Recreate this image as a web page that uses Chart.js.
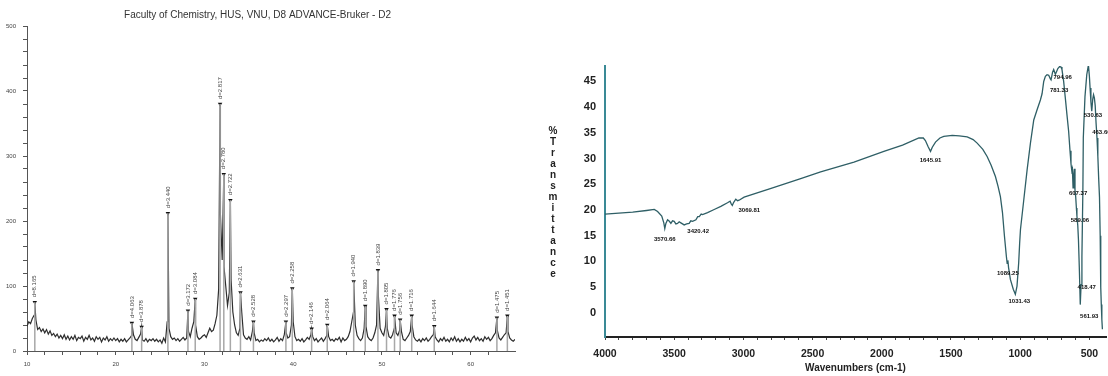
<!DOCTYPE html>
<html>
<head>
<meta charset="utf-8">
<script src="https://cdn.jsdelivr.net/npm/chart.js@4.4.1/dist/chart.umd.min.js"></script>
<style>
    html, body { margin: 0; padding: 0; background: #fff; }
    #wrap { position: relative; width: 1108px; height: 376px; overflow: hidden; }
    #xrdBox { position: absolute; left: 0; top: 0; width: 520px; height: 376px; }
    #ftirBox { position: absolute; left: 520px; top: 0; width: 588px; height: 376px; }
</style>
</head>
<body>
<div id="wrap">
    <div id="xrdBox"><canvas id="xrdChart" width="520" height="376"></canvas></div>
    <div id="ftirBox"><canvas id="ftirChart" width="588" height="376"></canvas></div>
</div>
<script>
// ---- XRD pattern (left) ----
const xrdTitle = "Faculty of Chemistry, HUS, VNU, D8 ADVANCE-Bruker - D2";
const scanStart = 10.0;   // 2-theta of first count
const scanStep = 0.2;     // degrees per count
// one row per degree: x.0, x.2, x.4, x.6, x.8
const xrdCounts = [
    38, 45, 42, 50, 55,   // 10
    48, 33, 36, 30, 34,   // 11
    28, 33, 26, 31, 24,   // 12
    27, 22, 26, 20, 24,   // 13
    19, 25, 18, 23, 17,   // 14
    22, 18, 24, 16, 21,   // 15
    19, 23, 15, 21, 18,   // 16
    24, 17, 20, 15, 22,   // 17
    18, 21, 14, 20, 17,   // 18
    22, 15, 19, 16, 20,   // 19
    16, 19, 14, 18, 15,   // 20
    19, 14, 17, 20, 24,   // 21
    25, 18, 16, 21, 26,   // 22
    17, 15, 19, 14, 18,   // 23
    16, 19, 15, 18, 14,   // 24
    17, 12, 20, 14, 45,   // 25
    35, 22, 18, 20, 16,   // 26
    19, 15, 18, 21, 17,   // 27
    20, 30, 22, 35, 45,   // 28
    40, 22, 18, 20, 23,   // 29
    25, 21, 28, 35, 30,   // 30
    32, 42, 55, 95, 210,  // 31
    140, 130, 100, 70, 90,// 32
    110, 60, 40, 28, 24,  // 33
    35, 60, 25, 20, 18,   // 34
    22, 17, 30, 28, 16,   // 35
    18, 14, 17, 15, 19,   // 36
    16, 20, 15, 18, 14,   // 37
    17, 21, 15, 19, 16,   // 38
    25, 28, 20, 22, 40,   // 39
    45, 22, 16, 18, 15,   // 40
    19, 14, 17, 21, 18,   // 41
    25, 22, 16, 19, 14,   // 42
    17, 20, 15, 19, 24,   // 43
    22, 16, 18, 15, 19,   // 44
    17, 21, 14, 20, 16,   // 45
    18, 22, 30, 45, 60,   // 46
    40, 24, 19, 16, 20,   // 47
    35, 38, 22, 18, 16,   // 48
    20, 28, 40, 85, 35,   // 49
    28, 24, 38, 35, 22,   // 50
    20, 25, 35, 28, 24,   // 51
    32, 30, 18, 16, 20,   // 52
    24, 30, 40, 22, 17,   // 53
    15, 18, 14, 19, 16,   // 54
    20, 15, 18, 22, 25,   // 55
    22, 17, 14, 19, 16,   // 56
    21, 15, 18, 14, 20,   // 57
    16, 22, 15, 19, 14,   // 58
    18, 15, 21, 16, 19,   // 59
    14, 20, 23, 17, 21,   // 60
    16, 19, 15, 22, 18,   // 61
    21, 16, 19, 24, 28,   // 62
    32, 20, 17, 21, 25,   // 63
    28, 30, 20, 17, 15,   // 64
    18                    // 65
];
const xrdPeakAngle = [10.88, 21.82, 22.92, 25.88, 28.14, 28.96, 31.76, 32.18, 32.92, 34.06, 35.52, 39.18, 39.90, 42.08, 43.84, 46.82, 48.12, 49.55, 50.52, 51.42, 52.06, 53.36, 55.90, 62.96, 64.14];
const xrdPeakCount = [75, 43, 37, 212, 62, 80, 380, 272, 232, 90, 45, 45, 96, 34, 40, 107, 69, 124, 64, 54, 48, 54, 38, 51, 54];
const xrdPeakLabel = ['d=8.165', 'd=4.063', 'd=3.878', 'd=3.440', 'd=3.172', 'd=3.084', 'd=2.817', 'd=2.780', 'd=2.722', 'd=2.631', 'd=2.528', 'd=2.297', 'd=2.258', 'd=2.146', 'd=2.064', 'd=1.940', 'd=1.890', 'd=1.839', 'd=1.805', 'd=1.776', 'd=1.756', 'd=1.716', 'd=1.644', 'd=1.475', 'd=1.451'];

// ---- FTIR spectrum (right) ----
const ftirWavenumber = [4000, 3900, 3800, 3700, 3644, 3620, 3590, 3575, 3568, 3560, 3548, 3535, 3524, 3512, 3500, 3488, 3476, 3464, 3452, 3440, 3428, 3410, 3392, 3380, 3367, 3343, 3330, 3319, 3305, 3295, 3259, 3211, 3163, 3115, 3096, 3088, 3080, 3070, 3055, 3042, 3031, 2995, 2800, 2586, 2442, 2201, 1985, 1850, 1732, 1700, 1685, 1665, 1648, 1635, 1612, 1580, 1552, 1491, 1440, 1383, 1340, 1311, 1270, 1239, 1210, 1179, 1160, 1143, 1128, 1114, 1100, 1094, 1089, 1084, 1071, 1050, 1035, 1023, 1011, 1004, 998, 974, 950, 926, 902, 878, 854, 842, 830, 818, 806, 794, 782, 777, 766, 758, 746, 739, 728, 715, 705, 698, 686, 674, 662, 650, 640, 633, 627, 623, 618, 613, 609, 604, 599, 594, 590, 584, 579, 572, 566, 560, 554, 547, 544, 532, 519, 507, 500, 495, 489, 483, 476, 470, 464, 458, 452, 445, 439, 433, 427, 422, 418, 414, 410, 406];
const ftirTransmittance = [19.2, 19.4, 19.6, 19.9, 20.1, 19.7, 18.8, 17.5, 16.4, 17.4, 18.1, 17.8, 17.4, 17.9, 17.8, 17.3, 17.4, 17.7, 17.5, 17.3, 17.1, 17.3, 17.4, 17.9, 17.8, 18.1, 18.7, 18.7, 19.2, 19.1, 19.5, 20.1, 20.7, 21.4, 21.7, 21.2, 20.9, 21.5, 22.1, 21.8, 21.9, 22.5, 24.2, 26.1, 27.4, 29.3, 31.4, 32.6, 34.0, 34.0, 33.5, 32.3, 31.4, 32.2, 33.2, 34.0, 34.3, 34.5, 34.4, 34.2, 33.7, 33.0, 31.8, 30.4, 28.7, 26.5, 24.6, 22.6, 19.5, 15.0, 11.0, 9.6, 10.2, 8.8, 6.5, 4.6, 3.6, 5.2, 9.7, 13.5, 16.2, 22.0, 27.8, 33.0, 37.5, 39.5, 41.4, 42.6, 45.0, 46.0, 46.3, 46.2, 45.5, 45.3, 46.8, 47.3, 46.4, 46.8, 47.5, 47.9, 47.8, 47.3, 45.0, 41.8, 38.5, 35.3, 31.5, 29.0, 27.6, 28.0, 24.3, 26.8, 28.0, 23.8, 22.6, 20.4, 18.8, 17.0, 14.2, 8.0, 1.6, 5.5, 11.0, 24.0, 34.0, 42.0, 46.3, 48.2, 46.0, 43.7, 41.0, 39.2, 41.5, 42.4, 41.8, 40.3, 37.0, 34.0, 30.5, 26.2, 22.5, 15.0, 5.0, 1.6, -1.3, -3.2];
const ftirPeakLabel = ['3570.66', '3420.42', '3069.81', '1645.91', '1089.25', '1031.43', '794.96', '781.33', '607.37', '589.06', '561.93', '530.63', '463.66', '418.47'];
const ftirPeakWn = [3568, 3428, 3080, 1648, 1089, 1035, 758, 777, 618, 590, 566, 532, 464, 418];
const ftirPeakT = [16.4, 17.1, 20.9, 31.4, 10.2, 3.6, 47.3, 45.3, 24.3, 18.8, 1.6, 42.0, 41.8, 5.0];
const yTitleLetters = ['%', 'T', 'r', 'a', 'n', 's', 'm', 'i', 't', 't', 'a', 'n', 'c', 'e'];

// pixel offsets of the FTIR peak labels from their peaks
const ftirLabelOffset = [[0, 11], [14, 6], [17, 5], [0, 9], [0, 13], [4, 7], [9, 8], [8, 10], [5, 5], [3, 4], [9, 12], [8, 18], [7, 34], [-14, 0]];

// merge scan counts with peak tops, sorted by angle
const xrdProfile = xrdCounts.map((c, i) => ({ x: +(scanStart + i * scanStep).toFixed(2), y: c }))
    .concat(xrdPeakAngle.map((a, i) => ({ x: a, y: xrdPeakCount[i] })))
    .sort((a, b) => a.x - b.x);

// stick lines from the axis to each peak, broken by null
const xrdSticks = [];
xrdPeakAngle.forEach((a, i) => {
    xrdSticks.push({ x: a, y: 0 }, { x: a, y: xrdPeakCount[i] }, { x: a, y: null });
});

const smallFont = { family: "'Liberation Sans', Arial, sans-serif", size: 6 };

const xrdLabels = {
    id: 'xrdLabels',
    afterDatasetsDraw(chart) {
        const { ctx, scales: { x, y } } = chart;
        ctx.save();
        ctx.fillStyle = '#444';
        ctx.font = "6px 'Liberation Sans', Arial, sans-serif";
        ctx.textAlign = 'left';
        ctx.textBaseline = 'middle';
        xrdPeakAngle.forEach((a, i) => {
            ctx.save();
            ctx.translate(x.getPixelForValue(a), y.getPixelForValue(xrdPeakCount[i]) - 5);
            ctx.rotate(-Math.PI / 2);
            ctx.fillText(xrdPeakLabel[i], 0, 0);
            ctx.restore();
        });
        ctx.restore();
    }
};

new Chart(document.getElementById('xrdChart'), {
    type: 'line',
    data: {
        datasets: [
            {
                data: xrdSticks,
                borderColor: '#a8a8a8',
                borderWidth: 1.5,
                pointRadius: 0,
                spanGaps: false
            },
            {
                data: xrdProfile,
                borderColor: '#2e2e2e',
                borderWidth: 1.2,
                pointRadius: 0,
                tension: 0
            },
            {
                type: 'scatter',
                data: xrdPeakAngle.map((a, i) => ({ x: a, y: xrdPeakCount[i] })),
                pointStyle: 'triangle',
                rotation: 180,
                pointRadius: 2.6,
                backgroundColor: '#111',
                borderColor: '#111',
                borderWidth: 0
            }
        ]
    },
    options: {
        responsive: false,
        animation: false,
        parsing: false,
        layout: { padding: { left: 0, right: 5, top: 0, bottom: 0 } },
        plugins: {
            legend: { display: false },
            tooltip: { enabled: false },
            title: {
                display: true,
                text: xrdTitle,
                color: '#333',
                font: { family: "'Liberation Sans Narrow', 'Liberation Sans', Arial, sans-serif", size: 10, weight: 'normal' },
                padding: { top: 9, bottom: 5 }
            }
        },
        scales: {
            x: {
                type: 'linear',
                min: 10,
                max: 65,
                afterFit: s => { s.height = 25; },
                afterBuildTicks: s => { s.ticks = s.ticks.filter(t => t.value % 2 === 0); },
                ticks: {
                    stepSize: 2,
                    autoSkip: false,
                    maxRotation: 0,
                    padding: 6,
                    color: '#444',
                    font: smallFont,
                    callback: v => (v % 10 === 0 ? v : '')
                },
                grid: { drawOnChartArea: false, drawTicks: true, tickLength: 4, color: '#555' },
                border: { color: '#555', width: 1 }
            },
            y: {
                min: 0,
                max: 500,
                afterFit: s => { s.width = 27; },
                ticks: {
                    stepSize: 20,
                    autoSkip: false,
                    padding: 7,
                    color: '#444',
                    font: smallFont,
                    callback: v => (v % 100 === 0 ? v : '')
                },
                grid: { drawOnChartArea: false, drawTicks: true, tickLength: 4, color: '#555' },
                border: { color: '#555', width: 1 }
            }
        }
    },
    plugins: [xrdLabels]
});

const ftirText = {
    id: 'ftirText',
    afterDatasetsDraw(chart) {
        const { ctx, scales: { x, y } } = chart;
        ctx.save();
        ctx.fillStyle = '#111';
        ctx.textAlign = 'center';
        ctx.textBaseline = 'middle';
        ctx.font = "bold 6px 'Liberation Sans', Arial, sans-serif";
        ftirPeakLabel.forEach((lab, i) => {
            const px = x.getPixelForValue(ftirPeakWn[i]) + ftirLabelOffset[i][0];
            const py = y.getPixelForValue(ftirPeakT[i]) + ftirLabelOffset[i][1];
            ctx.fillText(lab, px, py);
        });
        // stacked axis title
        ctx.fillStyle = '#222';
        ctx.font = "bold 10px 'Liberation Sans', Arial, sans-serif";
        yTitleLetters.forEach((ch, i) => {
            ctx.fillText(ch, 33, 131 + i * 11);
        });
        ctx.restore();
    }
};

new Chart(document.getElementById('ftirChart'), {
    type: 'line',
    data: {
        datasets: [{
            data: ftirWavenumber.map((w, i) => ({ x: w, y: ftirTransmittance[i] })),
            borderColor: '#2f5f66',
            borderWidth: 1.3,
            pointRadius: 0,
            tension: 0
        }]
    },
    options: {
        responsive: false,
        animation: false,
        parsing: false,
        layout: { padding: { left: 0, right: 2, top: 66, bottom: 0 } },
        plugins: {
            legend: { display: false },
            tooltip: { enabled: false }
        },
        scales: {
            x: {
                type: 'linear',
                reverse: true,
                min: 380,
                max: 4000,
                afterFit: s => { s.height = 39; },
                afterBuildTicks: s => { s.ticks = s.ticks.filter(t => t.value % 100 === 0); },
                ticks: {
                    stepSize: 100,
                    autoSkip: false,
                    maxRotation: 0,
                    padding: 8,
                    color: '#222',
                    font: { family: "'Liberation Sans', Arial, sans-serif", size: 10.5, weight: 'bold' },
                    callback: v => (v % 500 === 0 ? v : '')
                },
                title: {
                    display: true,
                    text: 'Wavenumbers (cm-1)',
                    color: '#222',
                    font: { family: "'Liberation Sans', Arial, sans-serif", size: 10, weight: 'bold' },
                    padding: { top: 0, bottom: 2 }
                },
                grid: { drawOnChartArea: false, drawTicks: true, tickLength: 3, color: '#444' },
                border: { color: '#222', width: 2 }
            },
            y: {
                min: -4.7,
                max: 48,
                afterFit: s => { s.width = 85; },
                afterBuildTicks: s => { s.ticks = s.ticks.filter(t => t.value >= 0 && Math.abs(t.value % 5) < 1e-6); },
                ticks: {
                    stepSize: 5,
                    autoSkip: false,
                    padding: 9,
                    color: '#222',
                    font: { family: "'Liberation Sans', Arial, sans-serif", size: 11, weight: 'bold' }
                },
                grid: { drawOnChartArea: false, drawTicks: false },
                border: { color: '#3a8a96', width: 2 }
            }
        }
    },
    plugins: [ftirText]
});
</script>
</body>
</html>
